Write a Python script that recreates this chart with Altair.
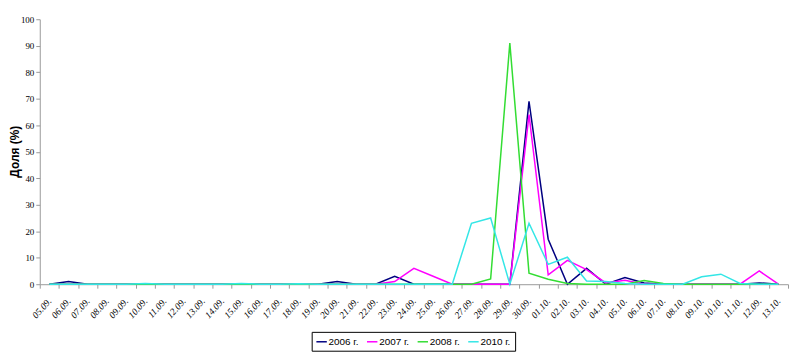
import altair as alt
import pandas as pd

labels = ["05.09.", "06.09.", "07.09.", "08.09.", "09.09.", "10.09.", "11.09.", "12.09.",
          "13.09.", "14.09.", "15.09.", "16.09.", "17.09.", "18.09.", "19.09.", "20.09.",
          "21.09.", "22.09.", "23.09.", "24.09.", "25.09.", "26.09.", "27.09.", "28.09.",
          "29.09.", "30.09.", "01.10.", "02.10.", "03.10.", "04.10.", "05.10.", "06.10.",
          "07.10.", "08.10.", "09.10.", "10.10.", "11.10.", "12.09.", "13.10."]

series_names = ["2006 г.", "2007 г.", "2008 г.", "2010 г."]
series_colors = ["#000080", "#ff00ff", "#33dd33", "#33e6e6"]

v2006 = [0, 1, 0, 0, 0, 0, 0, 0, 0, 0, 0, 0, 0, 0, 0, 1, 0, 0, 3, 0,
         0, 0, 0, 0, 0, 69, 17, 0, 6, 0, 2.5, 0.5, 0, 0, 0, 0, 0, 0.5, 0]
v2007 = [0, 0, 0, 0, 0, 0, 0, 0, 0, 0, 0, 0, 0, 0, 0, 0, 0, 0, 1, 6,
         3, 0, 0, 0, 0, 64, 3.5, 9, 5.5, 0.5, 1.5, 0, 0, 0, 0, 0, 0, 5, 0]
v2008 = [0, 0, 0, 0, 0, 0, 0, 0, 0, 0, 0, 0, 0, 0, 0, 0, 0, 0, 0, 0,
         0, 0, 0, 2, 91, 4.2, 1.9, 0.3, 0, 0, 0, 1.4, 0.3, 0, 0, 0, 0, 0, 0]
v2010 = [0, 0, 0, 0, 0, 0.3, 0, 0, 0, 0, 0.3, 0, 0, 0.2, 0, 0, 0, 0, 0, 0,
         0, 0, 23, 25, 0, 23, 7.5, 10.2, 1.2, 1.0, 0.3, 0, 0, 0, 2.8, 3.8, 0.3, 0, 0]

rows = []
for name, vals in zip(series_names, [v2006, v2007, v2008, v2010]):
    for i, v in enumerate(vals):
        rows.append({"i": i, "label": labels[i], "series": name, "value": v})
df = pd.DataFrame(rows)

label_expr = "[" + ",".join("'" + s + "'" for s in labels) + "][datum.value]"

chart = alt.Chart(df).mark_line(strokeWidth=1.5).encode(
    x=alt.X("i:O", bandPosition=0.5,
            scale=alt.Scale(type="band", paddingInner=0, paddingOuter=0),
            axis=alt.Axis(title=None, labelExpr=label_expr, labelAngle=-48,
                          labelAlign="right", labelBaseline="middle",
                          labelFont="Liberation Serif", labelFontSize=9.5,
                          labelFontStyle="italic", labelColor="#000",
                          labelPadding=11, tickBand="extent", tickSize=4,
                          tickColor="#999", domainColor="#999", grid=False)),
    y=alt.Y("value:Q", scale=alt.Scale(domain=[0, 100], nice=False),
            axis=alt.Axis(title="Доля (%)", values=list(range(0, 101, 10)),
                          titleFont="Liberation Sans", titleFontSize=12,
                          titleFontWeight="bold", titleColor="#000",
                          titleX=-25, titleY=133, titleAngle=-90,
                          titleBaseline="middle", titleAlign="center",
                          labelFont="Liberation Serif", labelFontSize=9,
                          labelColor="#000", tickSize=4, tickColor="#999",
                          domainColor="#999", grid=False, labelPadding=2)),
    color=alt.Color("series:N",
                    scale=alt.Scale(domain=series_names, range=series_colors),
                    legend=alt.Legend(title=None, orient="none", legendX=274, legendY=315,
                                      direction="horizontal", symbolType="stroke",
                                      symbolSize=110, symbolStrokeWidth=1.5,
                                      labelFont="Liberation Sans", labelFontSize=10,
                                      labelColor="#000", strokeColor="#000",
                                      padding=4, columnPadding=4, labelOffset=1)),
    order=alt.Order("i:O"),
).properties(
    width=754, height=267,
    padding={"left": 32, "top": 10, "right": 4, "bottom": 72},
    autosize=alt.AutoSizeParams(type="none"),
).configure_view(stroke=None)

chart.save("out.html", embed_options={"renderer": "svg", "actions": False})
